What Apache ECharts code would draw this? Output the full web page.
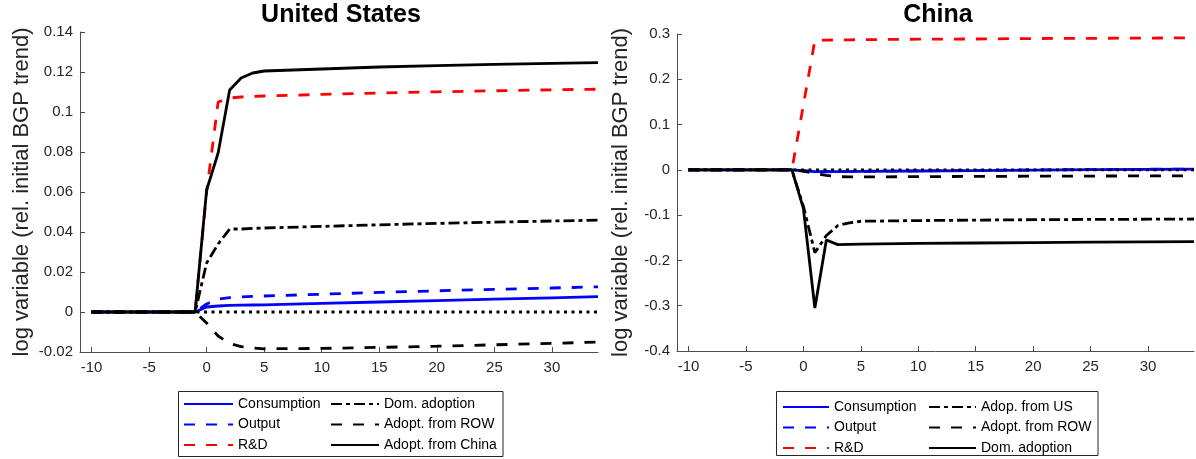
<!DOCTYPE html>
<html>
<head>
<meta charset="utf-8">
<script src="https://cdn.jsdelivr.net/npm/echarts@6/dist/echarts.min.js"></script>
<style>
html,body{margin:0;padding:0;background:#fff;}
#chart{width:1196px;height:459px;}
</style>
</head>
<body>
<div id="chart"></div>
<script>
// ---- data ----
const xs = [-10, -1, 0, 1, 2, 3, 4, 5, 10, 15, 20, 25, 30, 34];
const xTicks = [-10, -5, 0, 5, 10, 15, 20, 25, 30];
const zeroX = [-10, 34];
const zeroY = [0, 0];

// United States
const usConsumption = [0, 0, 0.0025, 0.003, 0.0033, 0.0034, 0.0035, 0.0036, 0.0043, 0.005, 0.0057, 0.0064, 0.0071, 0.0077];
const usOutput      = [0, 0, 0.004, 0.0065, 0.0072, 0.0075, 0.0078, 0.008, 0.0089, 0.0098, 0.0106, 0.0113, 0.012, 0.0126];
const usRD          = [0, 0, 0.06, 0.105, 0.107, 0.1075, 0.1078, 0.108, 0.1088, 0.1095, 0.1101, 0.1106, 0.1111, 0.1114];
const usDomAdopt    = [0, 0, 0.0245, 0.034, 0.0415, 0.0415, 0.0418, 0.042, 0.0428, 0.0436, 0.0443, 0.0449, 0.0455, 0.0459];
const usAdoptROW    = [0, 0, -0.0055, -0.012, -0.0157, -0.0173, -0.018, -0.0184, -0.0182, -0.0177, -0.0171, -0.0164, -0.0157, -0.015];
const usAdoptChina  = [0, 0, 0.061, 0.0795, 0.111, 0.117, 0.1195, 0.1205, 0.1215, 0.1225, 0.1232, 0.1238, 0.1243, 0.1247];

// China
const cnConsumption = [0, 0, -0.002, -0.004, -0.004, -0.004, -0.0038, -0.0035, -0.0025, -0.0015, -0.0005, 0.0003, 0.001, 0.0015];
const cnOutput      = [0, 0, -0.002, -0.0045, -0.0042, -0.004, -0.0037, -0.0034, -0.0023, -0.0012, -0.0002, 0.0006, 0.0013, 0.0019];
const cnRD          = [0, 0, 0.143, 0.286, 0.2865, 0.287, 0.2872, 0.2875, 0.2885, 0.289, 0.29, 0.2905, 0.291, 0.2915];
const cnAdopUS      = [0, 0, -0.08, -0.183, -0.145, -0.123, -0.117, -0.1135, -0.112, -0.111, -0.11, -0.1095, -0.109, -0.1085];
const cnAdoptROW    = [0, 0, -0.003, -0.008, -0.012, -0.015, -0.0155, -0.0155, -0.015, -0.0145, -0.014, -0.0137, -0.0134, -0.0132];
const cnDomAdopt    = [0, 0, -0.085, -0.305, -0.155, -0.165, -0.1645, -0.164, -0.1625, -0.1615, -0.1605, -0.1597, -0.159, -0.1585];

// ---- styling ----
const FONT = 'Liberation Sans, Arial, Helvetica, sans-serif';
const TXT = '#262626';
const AX = '#4d4d4d';
const LW = 2.8;
const DASH = [11, 11];
const DASHDOT = [11, 4, 4, 4];
const DOT = [3, 4.5];
const CN = ' ';  // suffix to keep China series names distinct

function pairs(x, y) { return x.map((v, i) => [v, y[i]]); }

function line(name, idx, ys, color, type, xsArr) {
  return {
    name: name, type: 'line', xAxisIndex: idx, yAxisIndex: idx,
    data: pairs(xsArr || xs, ys),
    symbol: 'none', showSymbol: false, smooth: false, animation: false,
    lineStyle: { color: color, width: LW, type: type, cap: 'butt' },
    itemStyle: { color: color },
    emphasis: { disabled: true }
  };
}

function xAxisCfg(idx) {
  return {
    type: 'value', gridIndex: idx, min: -11, max: 34,
    axisLine: { show: true, onZero: false, lineStyle: { color: AX, width: 1 } },
    axisTick: { show: true, inside: true, length: 5, customValues: xTicks, lineStyle: { color: AX } },
    axisLabel: { customValues: xTicks, color: TXT, fontSize: 15, fontFamily: FONT, margin: 8 },
    splitLine: { show: false }
  };
}

function yAxisCfg(idx, min, max, interval, gap) {
  return {
    type: 'value', gridIndex: idx, min: min, max: max, interval: interval,
    name: 'log variable (rel. initial BGP trend)', nameLocation: 'middle', nameGap: gap,
    nameTextStyle: { color: TXT, fontSize: 22, fontFamily: FONT },
    axisLine: { show: true, onZero: false, lineStyle: { color: AX, width: 1 } },
    axisTick: { show: true, inside: true, length: 5, lineStyle: { color: AX } },
    axisLabel: { color: TXT, fontSize: 15, fontFamily: FONT, margin: 7 },
    splitLine: { show: false }
  };
}

function legendCfg(names, left, top, w, strip) {
  const cfg = {
    data: names, orient: 'vertical', left: left, top: top, padding: 0,
    itemWidth: w, itemHeight: 14, itemGap: 6.5, selectedMode: false,
    itemStyle: { opacity: 0, color: 'rgba(0,0,0,0)', borderWidth: 0 },
    textStyle: { color: '#000', fontSize: 14, fontFamily: FONT }
  };
  if (strip) cfg.formatter = function (n) { return n.replace(/\s+$/, ''); };
  return cfg;
}

const option = {
  backgroundColor: '#fff',
  animation: false,
  title: [
    { text: 'United States', left: 341, top: 3, padding: 0, textAlign: 'center',
      textStyle: { fontSize: 25, fontWeight: 'bold', color: '#000', fontFamily: FONT } },
    { text: 'China', left: 938, top: 3, padding: 0, textAlign: 'center',
      textStyle: { fontSize: 25, fontWeight: 'bold', color: '#000', fontFamily: FONT } }
  ],
  grid: [
    { left: 80, top: 32, width: 518, height: 320, outerBoundsMode: 'none' },
    { left: 677, top: 34, width: 517, height: 317, outerBoundsMode: 'none' }
  ],
  xAxis: [xAxisCfg(0), xAxisCfg(1)],
  yAxis: [yAxisCfg(0, -0.02, 0.14, 0.02, 47), yAxisCfg(1, -0.4, 0.3, 0.1, 45)],
  legend: [
    legendCfg(['Consumption', 'Output', 'R&D'], 183, 397, 49, false),
    legendCfg(['Dom. adoption', 'Adopt. from ROW', 'Adopt. from China'], 330, 397, 48, false),
    legendCfg(['Consumption' + CN, 'Output' + CN, 'R&D' + CN], 782, 400, 46, true),
    legendCfg(['Adop. from US', 'Adopt. from ROW' + CN, 'Dom. adoption' + CN], 928, 400, 47, true)
  ],
  graphic: [
    { type: 'rect', shape: { x: 178.5, y: 391.5, width: 324.5, height: 65 },
      style: { fill: 'none', stroke: '#262626', lineWidth: 1 }, silent: true },
    { type: 'rect', shape: { x: 776.5, y: 391.5, width: 321.5, height: 64 },
      style: { fill: 'none', stroke: '#262626', lineWidth: 1 }, silent: true }
  ],
  series: [
    line('Consumption', 0, usConsumption, '#0000ff', 'solid'),
    line('Output', 0, usOutput, '#0000ff', DASH),
    line('R&D', 0, usRD, '#ff0000', DASH),
    line('Dom. adoption', 0, usDomAdopt, '#000000', DASHDOT),
    line('Adopt. from ROW', 0, usAdoptROW, '#000000', DASH),
    line('Adopt. from China', 0, usAdoptChina, '#000000', 'solid'),
    line('zero-us', 0, zeroY, '#000000', DOT, zeroX),

    line('Consumption' + CN, 1, cnConsumption, '#0000ff', 'solid'),
    line('Output' + CN, 1, cnOutput, '#0000ff', DASH),
    line('R&D' + CN, 1, cnRD, '#ff0000', DASH),
    line('Adop. from US', 1, cnAdopUS, '#000000', DASHDOT),
    line('Adopt. from ROW' + CN, 1, cnAdoptROW, '#000000', DASH),
    line('Dom. adoption' + CN, 1, cnDomAdopt, '#000000', 'solid'),
    line('zero-cn', 1, zeroY, '#000000', DOT, zeroX)
  ]
};

const chart = echarts.init(document.getElementById('chart'), null, { renderer: 'canvas' });
chart.setOption(option);
</script>
</body>
</html>
